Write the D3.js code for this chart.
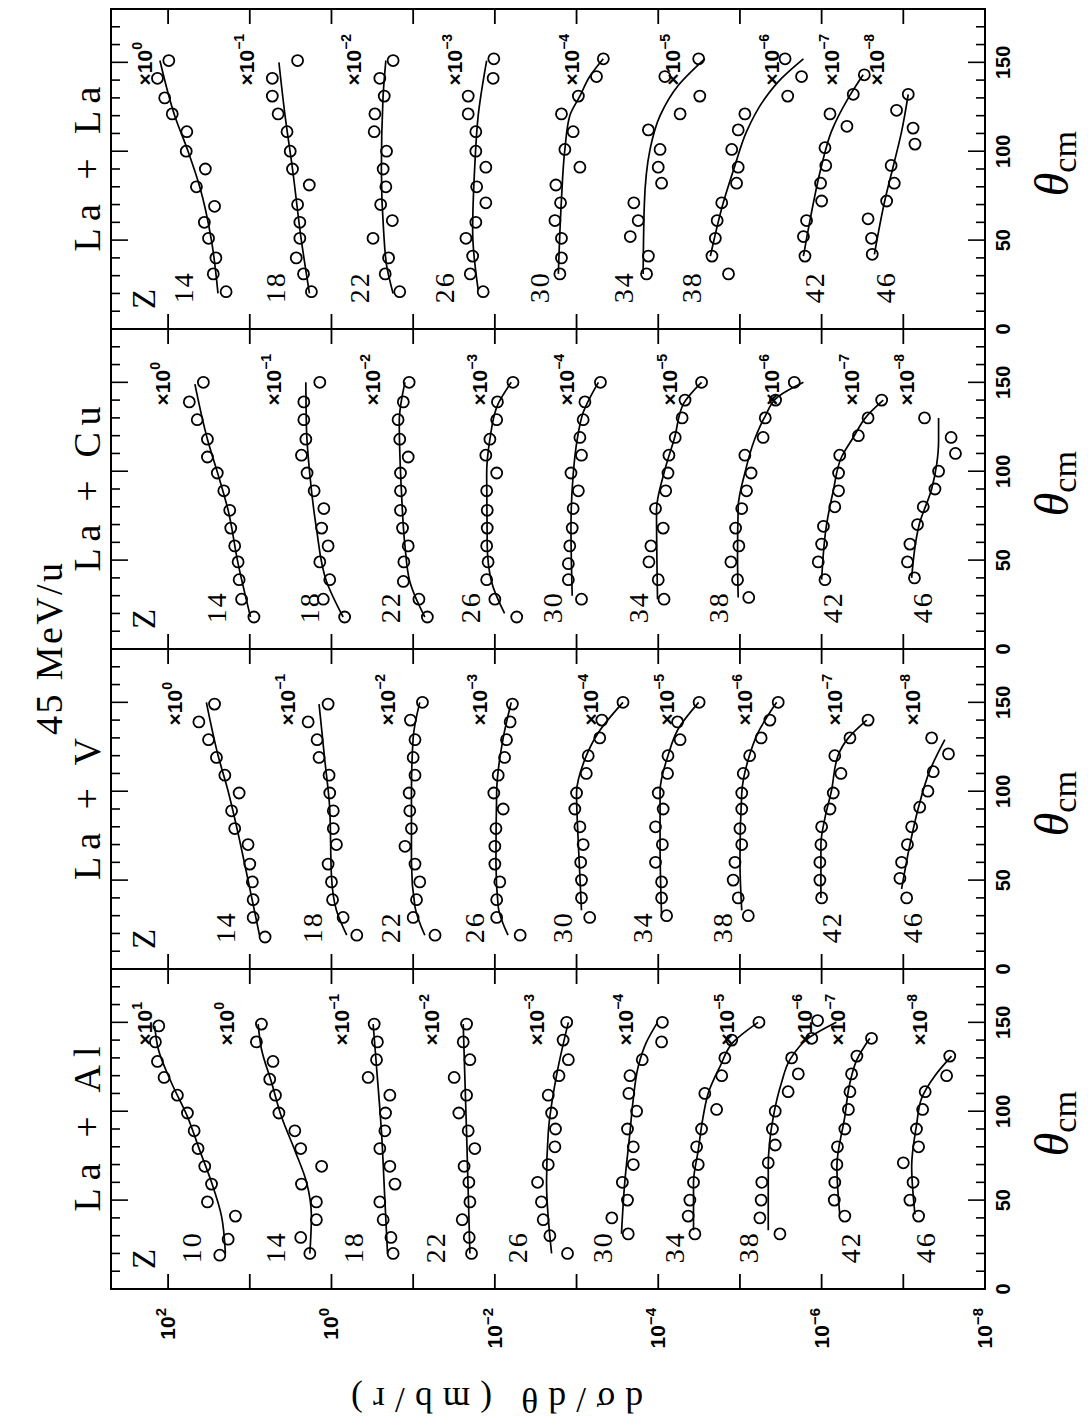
<!DOCTYPE html>
<html>
<head>
<meta charset="utf-8">
<script src="https://cdn.jsdelivr.net/npm/d3@7"></script>
<style>
  body { margin: 0; background: #fff; }
  svg { display: block; }
</style>
</head>
<body>
<div id="chart"></div>
<script>
// Panel titles, left to right in the landscape figure.
const panelNames = ["La + Al", "La + V", "La + Cu", "La + La"];
const thetaMajor = [0, 50, 100, 150];
const decadeLabels = [2, 0, -2, -4, -6, -8];

// La + Al. Cross sections in mb/sr, drawn multiplied by 10^scale.
const alZ = [10, 14, 18, 22, 26, 30, 34, 38, 42, 46];
const alScale = [1, 0, -1, -2, -3, -4, -5, -6, -7, -8];
const alTheta = [
  [19, 28, 41, 49, 59, 69, 79, 89, 99, 109, 119, 128, 139, 148],
  [20, 29, 39, 49, 59, 69, 79, 89, 99, 109, 118, 128, 139, 149],
  [20, 29, 39, 49, 59, 69, 79, 89, 99, 109, 119, 129, 139, 149],
  [20, 29, 39, 49, 60, 69, 79, 89, 99, 109, 119, 129, 139, 149],
  [20, 30, 39, 49, 60, 70, 80, 90, 99, 109, 120, 129, 140, 150],
  [31, 40, 50, 60, 70, 80, 90, 100, 110, 120, 129, 139, 150],
  [31, 41, 50, 60, 70, 80, 90, 101, 110, 120, 130, 140, 150],
  [31, 40, 50, 60, 71, 81, 90, 100, 111, 121, 130, 141, 151],
  [41, 50, 60, 70, 80, 90, 101, 111, 121, 131, 141],
  [41, 50, 60, 71, 80, 90, 101, 111, 120, 131]
];
const alSigma = [
  [2.33, 1.84, 1.5, 3.3, 2.94, 3.56, 4.3, 4.8, 5.8, 7.7, 11.2, 13.5, 14.3, 13],
  [1.84, 2.38, 1.53, 1.53, 2.33, 1.32, 2.38, 2.81, 4.4, 4.85, 5.7, 5.2, 8.3, 7.2],
  [1.76, 1.87, 2.33, 2.56, 1.67, 1.93, 2.56, 2.22, 2.18, 1.93, 3.56, 2.81, 2.74, 3.0],
  [1.93, 2.06, 2.51, 2.02, 2.08, 2.38, 1.76, 2.12, 2.76, 2.22, 3.15, 2.02, 2.44, 2.22],
  [1.29, 2.12, 2.56, 2.69, 3.0, 2.22, 1.84, 1.81, 2.02, 2.22, 1.64, 1.26, 1.46, 1.32],
  [2.33, 3.7, 2.38, 2.75, 2.02, 2.02, 2.38, 1.84, 2.29, 2.22, 1.57, 0.91, 0.89],
  [3.56, 4.3, 4.1, 3.7, 3.24, 3.39, 2.95, 1.93, 2.69, 1.67, 1.53, 1.26, 0.585],
  [3.24, 5.7, 5.5, 5.4, 4.5, 3.7, 4.0, 3.7, 2.57, 1.93, 2.33, 1.32, 1.12],
  [5.2, 7.0, 6.9, 6.5, 6.4, 5.2, 4.7, 4.5, 4.3, 3.7, 2.45],
  [6.5, 8.3, 7.6, 10, 6.5, 6.9, 5.8, 5.4, 2.95, 2.7]
];
const alFitTheta = [
  [20, 41, 60, 78, 97, 116, 135, 148],
  [20, 41, 60, 78, 97, 116, 135, 149],
  [20, 50, 88, 125, 149],
  [20, 88, 149],
  [20, 60, 88, 120, 150],
  [31, 60, 88, 107, 125, 139, 150],
  [33, 60, 78, 97, 110, 125, 139, 150],
  [33, 69, 97, 116, 129, 141, 150],
  [42, 69, 97, 116, 129, 141],
  [42, 69, 92, 107, 120, 131]
];
const alFitSigma = [
  [1.99, 2.22, 2.94, 4.1, 5.8, 9.1, 13.2, 14.6],
  [1.84, 1.76, 2.02, 2.81, 4.1, 5.4, 7.2, 7.9],
  [2.06, 2.22, 2.44, 2.81, 3.09],
  [2.02, 2.22, 2.44],
  [2.02, 2.33, 2.22, 1.76, 1.26],
  [2.82, 2.57, 2.22, 2.02, 1.76, 1.39, 1.02],
  [3.7, 3.7, 3.24, 2.82, 2.45, 1.76, 1.2, 0.6],
  [4.5, 4.5, 3.9, 3.1, 2.44, 1.46, 0.66],
  [6.0, 6.5, 5.2, 4.5, 3.7, 2.57],
  [7.2, 7.9, 6.9, 6.0, 4.1, 2.57]
];

// La + V
const vZ = [14, 18, 22, 26, 30, 34, 38, 42, 46];
const vScale = [0, -1, -2, -3, -4, -5, -6, -7, -8];
const vTheta = [
  [18, 29, 39, 49, 59, 70, 79, 89, 99, 109, 119, 129, 139, 149],
  [19, 29, 39, 49, 59, 70, 79, 89, 99, 109, 119, 129, 139, 149],
  [19, 29, 39, 49, 59, 69, 79, 89, 99, 109, 119, 129, 140, 150],
  [19, 29, 39, 49, 59, 69, 79, 90, 99, 109, 119, 129, 139, 149],
  [29, 40, 50, 60, 70, 80, 90, 99, 110, 120, 130, 140, 150],
  [30, 40, 49, 60, 70, 80, 90, 99, 110, 120, 129, 139, 150],
  [30, 40, 50, 60, 70, 79, 90, 99, 110, 120, 130, 140, 150],
  [40, 50, 60, 70, 80, 90, 99, 110, 120, 130, 140],
  [40, 51, 60, 70, 80, 91, 100, 111, 121, 130]
];
const vSigma = [
  [6.5, 9.1, 9.1, 9.3, 10, 10.5, 15.3, 16.7, 13.5, 20.2, 25.6, 32, 42, 27],
  [4.9, 7.2, 9.7, 10, 11, 8.7, 9.5, 9.5, 10.5, 10.7, 14.2, 15, 19.3, 11],
  [5.4, 10, 9.1, 8.3, 9.5, 12.6, 10.5, 11, 11.2, 9.5, 10, 9.5, 10.8, 7.7],
  [4.9, 9.5, 9.5, 8.7, 10, 10, 9.7, 7.9, 10.3, 9.1, 7.6, 7.2, 6.5, 6.1],
  [6.9, 8.7, 8.7, 8.9, 8.3, 9.1, 10.5, 10, 7.6, 7.2, 5.2, 4.9, 2.7],
  [7.9, 9.1, 9.1, 10.8, 8.9, 10.8, 8.7, 10, 7.7, 7.6, 5.4, 5.8, 3.16],
  [7.9, 10.5, 12.1, 11.5, 9.5, 10, 9.5, 9.5, 9.1, 7.6, 5.5, 4.3, 3.4],
  [10, 10.5, 10.5, 10.2, 10, 7.9, 7.2, 5.8, 6.9, 4.5, 2.7],
  [9.1, 11, 10.5, 8.9, 7.9, 6.3, 5.0, 4.3, 2.8, 4.5]
];
const vFitTheta = [
  [19, 50, 80, 100, 120, 150],
  [19, 33, 52, 90, 118, 149],
  [19, 35, 60, 100, 130, 150],
  [19, 35, 60, 100, 130, 150],
  [33, 70, 99, 118, 133, 150],
  [30, 70, 100, 120, 135, 150],
  [33, 61, 99, 118, 133, 150],
  [40, 70, 85, 100, 120, 130, 140],
  [45, 70, 90, 112, 129]
];
const vFitSigma = [
  [7.6, 10.5, 14.5, 18.4, 24.4, 34],
  [6.5, 8.7, 10, 10.5, 12.1, 14.2],
  [7.2, 9.5, 10.5, 10.5, 10, 8.3],
  [6.9, 9.1, 9.7, 9.5, 7.9, 6.3],
  [8.7, 9.5, 10, 7.9, 5.4, 2.7],
  [9.1, 9.5, 9.5, 7.6, 5.7, 3.2],
  [9.5, 10, 9.5, 7.9, 6.0, 3.55],
  [10.2, 10.2, 9.1, 7.6, 6.3, 4.7, 2.8],
  [10.5, 8.3, 6.6, 4.7, 3.1]
];

// La + Cu
const cuZ = [14, 18, 22, 26, 30, 34, 38, 42, 46];
const cuScale = [0, -1, -2, -3, -4, -5, -6, -7, -8];
const cuTheta = [
  [18, 28, 39, 49, 58, 68, 78, 89, 99, 108, 118, 129, 139, 150],
  [18, 28, 39, 49, 58, 68, 79, 89, 99, 109, 118, 129, 139, 150],
  [18, 28, 38, 49, 58, 68, 78, 89, 99, 108, 118, 129, 139, 150],
  [18, 28, 39, 49, 58, 68, 78, 89, 99, 109, 118, 129, 139, 150],
  [28, 39, 48, 58, 68, 79, 89, 99, 109, 119, 129, 139, 150],
  [28, 39, 49, 58, 68, 79, 89, 99, 109, 119, 130, 140, 150],
  [29, 39, 49, 58, 68, 79, 89, 99, 109, 119, 130, 140, 150],
  [39, 49, 59, 69, 80, 89, 99, 109, 120, 130, 140],
  [40, 49, 59, 70, 80, 90, 100, 110, 119, 130]
];
const cuSigma = [
  [8.9, 12.6, 13.5, 13.9, 15.3, 17.1, 17.6, 20.8, 25, 33, 33, 44, 55, 37],
  [6.9, 12.6, 10.5, 13.9, 11, 13.2, 12.4, 16.3, 19.9, 23.3, 20.6, 21.8, 21.8, 13.9],
  [6.7, 8.5, 13.2, 13, 11.5, 13.5, 14.3, 14.3, 14.3, 11.5, 14.6, 15.3, 13.2, 11.2],
  [5.4, 10, 12.6, 12.1, 12.6, 12.4, 12.4, 12.6, 9.5, 12.9, 11.5, 9.5, 9.3, 6.0],
  [8.7, 12.6, 12.6, 12.1, 11.3, 11, 9.5, 11.7, 8.7, 9.1, 8.3, 7.9, 5.1],
  [8.5, 10, 13, 12.3, 8.7, 10.8, 8.1, 7.6, 7.4, 6.2, 5.1, 4.7, 2.95],
  [7.8, 10.7, 12.9, 10.3, 11.3, 9.5, 8.3, 7.3, 8.7, 5.2, 4.9, 3.66, 2.16],
  [9.1, 11, 10, 9.5, 6.9, 6.2, 6.2, 6.0, 3.55, 2.7, 1.84],
  [7.3, 8.9, 8.3, 6.7, 5.7, 4.1, 3.7, 2.3, 2.6, 5.5]
];
const cuFitTheta = [
  [18, 48, 78, 98, 118, 149],
  [18, 38, 68, 98, 123, 150],
  [18, 38, 58, 88, 128, 150],
  [20, 38, 58, 98, 118, 138, 150],
  [30, 68, 98, 118, 133, 150],
  [28, 78, 99, 119, 138, 150],
  [29, 52, 80, 99, 118, 131, 142, 150],
  [39, 70, 89, 108, 119, 131, 140],
  [40, 71, 90, 104, 117, 130]
];
const cuFitSigma = [
  [9.8, 13.9, 18.4, 24.4, 33, 47],
  [7.2, 11.5, 15.3, 18.4, 20.2, 20.6],
  [7.2, 11, 12.6, 13.9, 14.8, 12.6],
  [7.6, 11, 12.4, 12.6, 11.5, 9.1, 6.3],
  [11.3, 11.7, 11.0, 9.8, 8.3, 5.4],
  [10.2, 10.5, 8.5, 6.3, 4.9, 2.95],
  [10.5, 10.7, 10.5, 8.7, 6.6, 4.9, 3.4, 1.67],
  [10, 8.7, 7.2, 5.7, 4.1, 2.8, 1.76],
  [7.9, 6.3, 4.5, 3.9, 3.7, 3.7]
];

// La + La
const laZ = [14, 18, 22, 26, 30, 34, 38, 42, 46];
const laScale = [0, -1, -2, -3, -4, -5, -6, -7, -8];
const laTheta = [
  [21, 31, 40, 51, 60, 69, 80, 90, 100, 111, 121, 130, 141, 151],
  [21, 31, 40, 51, 60, 70, 81, 90, 100, 111, 121, 131, 141, 151],
  [21, 31, 40, 51, 61, 70, 80, 90, 100, 111, 121, 131, 141, 151],
  [21, 31, 41, 51, 60, 71, 80, 91, 100, 111, 121, 131, 141, 152],
  [31, 40, 51, 61, 71, 81, 91, 101, 111, 121, 131, 142, 152],
  [31, 41, 52, 61, 71, 82, 91, 101, 112, 121, 131, 142, 152],
  [31, 41, 51, 61, 71, 82, 91, 101, 112, 121, 131, 142, 152],
  [41, 52, 61, 72, 82, 92, 102, 114, 121, 132, 143],
  [42, 51, 62, 72, 82, 92, 104, 113, 123, 132]
];
const laSigma = [
  [19.5, 28, 26, 32, 36, 27, 45, 35, 60, 59, 89, 110, 135, 98],
  [17.6, 22, 27, 24.4, 24.4, 26, 18.7, 30, 32, 35, 45, 53, 53, 26],
  [14.6, 22, 20, 31, 18, 25, 21.6, 23.3, 21.2, 30, 29.4, 22.6, 25.6, 17.6],
  [13.9, 20, 18.7, 22.6, 17.1, 12.9, 16.7, 12.9, 17.1, 17.1, 21.2, 21.2, 10.5, 10.3],
  [16, 15.3, 15.3, 18.4, 15.7, 17.9, 9.1, 13.9, 11, 15.3, 9.5, 5.7, 4.7],
  [13.9, 13.2, 22, 17.6, 19.9, 9.1, 10, 9.5, 13.2, 5.4, 3.1, 8.3, 3.2],
  [13.8, 22, 20, 19, 16.7, 11, 10.5, 12.6, 10.5, 8.7, 2.6, 1.76, 2.8],
  [16, 16.7, 15.3, 10, 10.3, 8.9, 9.1, 4.9, 7.9, 4.1, 3.0],
  [24, 24.5, 27, 16, 12.9, 14.1, 7.2, 7.6, 12.1, 8.7]
];
const laFitTheta = [
  [20, 50, 80, 100, 120, 151],
  [20, 50, 90, 120, 150],
  [20, 35, 55, 90, 130, 151],
  [22, 55, 92, 120, 151],
  [31, 73, 101, 120, 131, 142, 152],
  [31, 70, 101, 120, 137, 152],
  [41, 71, 92, 111, 130, 141, 152],
  [41, 61, 92, 111, 130, 143],
  [42, 73, 92, 111, 132]
];
const laFitSigma = [
  [24.5, 29.5, 41, 57, 83, 126],
  [18.6, 23.4, 30, 37, 44],
  [17.6, 21, 23, 24.5, 23.4, 21.6],
  [16, 18.7, 17.6, 16, 12.6],
  [16.7, 15.3, 13.9, 12.1, 9.1, 6.9, 4.7],
  [15.3, 14.8, 12.6, 9.5, 5.7, 2.7],
  [23, 16, 11.5, 8.3, 4.9, 3.1, 1.67],
  [16.7, 13.9, 10, 7.6, 4.7, 3.1],
  [22.6, 16.7, 13.2, 10.5, 8.7]
];

const panels = [
  { z: alZ, k: alScale, th: alTheta, sig: alSigma, fth: alFitTheta, fsig: alFitSigma },
  { z: vZ, k: vScale, th: vTheta, sig: vSigma, fth: vFitTheta, fsig: vFitSigma },
  { z: cuZ, k: cuScale, th: cuTheta, sig: cuSigma, fth: cuFitTheta, fsig: cuFitSigma },
  { z: laZ, k: laScale, th: laTheta, sig: laSigma, fth: laFitTheta, fsig: laFitSigma }
];

// The figure is drawn in landscape and turned a quarter turn onto the page.
const W = 1088, H = 1424;
const plotLeft = 135, panelWidth = 320, plotTop = 111, plotBottom = 985;
const sansFont = "'Liberation Sans', Arial, sans-serif";
const serifFont = "'Liberation Serif', 'DejaVu Serif', serif";

const svg = d3.select("#chart").append("svg")
  .attr("width", W)
  .attr("height", H);
svg.append("rect").attr("width", W).attr("height", H).attr("fill", "#fff");

const g = svg.append("g").attr("transform", `translate(0,${H}) rotate(-90)`);

const y = d3.scaleLog().domain([1e-8, 500]).range([plotBottom, plotTop]);
const decades = d3.range(-8, 3).map((e) => Math.pow(10, e));

// Title.
g.append("text")
  .attr("x", plotLeft + 2 * panelWidth)
  .attr("y", 62)
  .attr("text-anchor", "middle")
  .attr("font-family", serifFont)
  .attr("font-size", 38)
  .attr("textLength", 172)
  .attr("lengthAdjust", "spacing")
  .text("45 MeV/u");

// y-axis title, turned like the original.
g.append("text")
  .attr("transform", `translate(36, 497) rotate(-90)`)
  .attr("text-anchor", "middle")
  .attr("font-family", serifFont)
  .attr("font-size", 35)
  .attr("textLength", 292)
  .attr("lengthAdjust", "spacing")
  .text("dσ/dθ (mb/r)");

// y tick labels on the first panel only.
decadeLabels.forEach((e) => {
  const t = g.append("text")
    .attr("x", 116)
    .attr("y", y(Math.pow(10, e)) + 7)
    .attr("text-anchor", "end")
    .attr("font-family", sansFont)
    .attr("font-weight", "bold")
    .attr("font-size", 21)
    .text("10");
  t.append("tspan")
    .attr("dy", -9)
    .attr("font-size", 15)
    .text(e < 0 ? "\u2212" + (-e) : String(e));
});

const superLabel = (sel, k) => {
  sel.append("tspan").text("\u00d710");
  sel.append("tspan")
    .attr("dy", -10)
    .attr("font-size", 14)
    .text(k < 0 ? "\u2212" + (-k) : String(k));
};

panels.forEach((p, i) => {
  const x0 = plotLeft + i * panelWidth;
  const x = d3.scaleLinear().domain([0, 180]).range([x0, x0 + panelWidth]);
  const pg = g.append("g");

  // Frame.
  pg.append("rect")
    .attr("x", x0)
    .attr("y", plotTop)
    .attr("width", panelWidth)
    .attr("height", plotBottom - plotTop)
    .attr("fill", "none")
    .attr("stroke", "#000")
    .attr("stroke-width", 2);

  // Theta ticks, top and bottom, pointing inward.
  const thetaTicks = d3.range(10, 180, 10);
  const tickLen = (d) => (d % 50 === 0 ? 17 : 9);
  pg.selectAll("line.tb")
    .data(thetaTicks)
    .join("line")
    .attr("x1", (d) => x(d))
    .attr("x2", (d) => x(d))
    .attr("y1", plotBottom)
    .attr("y2", (d) => plotBottom - tickLen(d))
    .attr("stroke", "#000")
    .attr("stroke-width", 1.6);
  pg.selectAll("line.tt")
    .data(thetaTicks)
    .join("line")
    .attr("x1", (d) => x(d))
    .attr("x2", (d) => x(d))
    .attr("y1", plotTop)
    .attr("y2", (d) => plotTop + tickLen(d))
    .attr("stroke", "#000")
    .attr("stroke-width", 1.6);

  // Decade ticks on both sides of the panel.
  [[x0, 15], [x0 + panelWidth, -15]].forEach(([xx, len]) => {
    pg.selectAll(null)
      .data(decades)
      .join("line")
      .attr("x1", xx)
      .attr("x2", xx + len)
      .attr("y1", (d) => y(d))
      .attr("y2", (d) => y(d))
      .attr("stroke", "#000")
      .attr("stroke-width", 1.8);
  });

  // Theta tick labels.
  pg.selectAll("text.tl")
    .data(thetaMajor)
    .join("text")
    .attr("x", (d) => x(d))
    .attr("y", plotBottom + 25)
    .attr("text-anchor", "middle")
    .attr("font-family", sansFont)
    .attr("font-weight", "bold")
    .attr("font-size", 20)
    .text((d) => d);

  // Theta_cm axis title.
  const xt = pg.append("text")
    .attr("x", x(93))
    .attr("y", 1068)
    .attr("text-anchor", "middle");
  xt.append("tspan")
    .attr("font-family", serifFont)
    .attr("font-style", "italic")
    .attr("font-size", 48)
    .text("θ");
  xt.append("tspan")
    .attr("dy", 8)
    .attr("font-family", serifFont)
    .attr("font-size", 34)
    .text("cm");

  // Panel name.
  pg.append("text")
    .attr("x", x(90))
    .attr("y", 100)
    .attr("text-anchor", "middle")
    .attr("font-family", serifFont)
    .attr("font-size", 38)
    .attr("textLength", 165 - 23 * (7 - panelNames[i].length))
    .attr("lengthAdjust", "spacing")
    .text(panelNames[i]);

  // Z header.
  pg.append("text")
    .attr("x", x(17))
    .attr("y", 155)
    .attr("text-anchor", "middle")
    .attr("font-family", serifFont)
    .attr("font-size", 33)
    .text("Z");

  const fitLine = d3.line()
    .x((d) => x(d[0]))
    .y((d) => y(d[1]))
    .curve(d3.curveMonotoneX);

  p.z.forEach((z, j) => {
    const f = Math.pow(10, p.k[j]);
    const pts = p.th[j].map((t, n) => [t, p.sig[j][n] * f]);
    const fit = p.fth[j].map((t, n) => [t, p.fsig[j][n] * f]);

    pg.append("path")
      .datum(fit)
      .attr("fill", "none")
      .attr("stroke", "#000")
      .attr("stroke-width", 1.7)
      .attr("d", fitLine);

    pg.selectAll(null)
      .data(pts)
      .join("circle")
      .attr("cx", (d) => x(d[0]))
      .attr("cy", (d) => y(d[1]))
      .attr("r", 5.5)
      .attr("fill", "none")
      .attr("stroke", "#000")
      .attr("stroke-width", 1.8);

    // Z number, left of the series start.
    const start = fit[0][1];
    const lift = pts[0][0] < 25 ? 0.3 : pts[0][0] < 36 ? 0.12 : -0.25;
    pg.append("text")
      .attr("x", x(23))
      .attr("y", y(start * Math.pow(10, lift)))
      .attr("text-anchor", "middle")
      .attr("font-family", serifFont)
      .attr("font-size", 28)
      .attr("textLength", 30)
      .attr("lengthAdjust", "spacing")
      .text(z);

    // Scale factor, above the series end.
    const end = fit[fit.length - 1][1];
    const fy = Math.max(y(end * Math.pow(10, 0.3)), y(Math.pow(10, 2.2)));
    const ft = pg.append("text")
      .attr("x", x(137))
      .attr("y", fy)
      .attr("font-family", sansFont)
      .attr("font-weight", "bold")
      .attr("font-size", 21);
    superLabel(ft, p.k[j]);
  });
});
</script>
</body>
</html>
